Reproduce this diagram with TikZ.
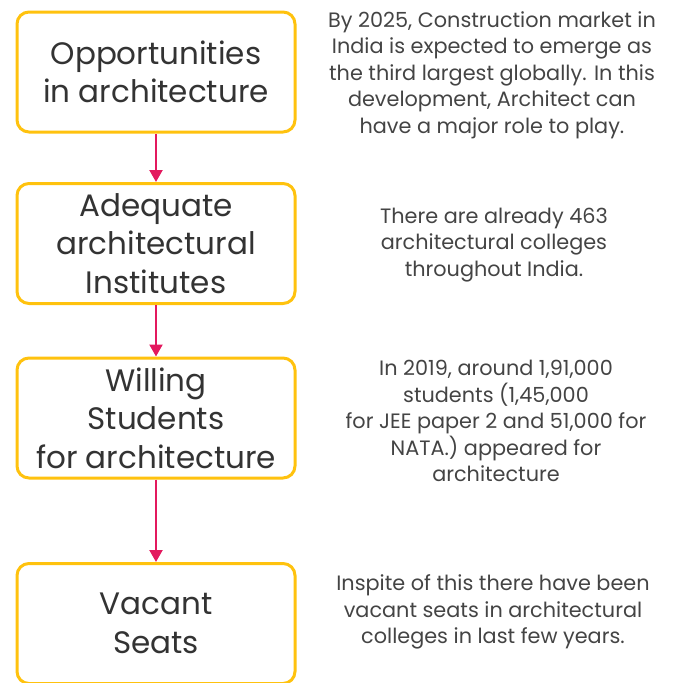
\documentclass[tikz,border=0pt]{standalone}
\usepackage{fontspec}
\setmainfont{Poppins}
\usetikzlibrary{arrows.meta}
\definecolor{boxline}{HTML}{FFC20E}
\definecolor{arrowc}{HTML}{E3195E}
\definecolor{txt}{HTML}{333333}
\definecolor{side}{HTML}{444444}
\begin{document}
\begin{tikzpicture}[x=1pt,y=-1pt,
  stepbox/.style={draw=boxline, line width=3pt, rounded corners=12pt, fill=white,
    minimum width=278pt, minimum height=120pt, align=center, text=txt,
    font=\fontsize{31}{38.5}\selectfont, inner sep=0pt},
  sidetext/.style={align=center, text=side, font=\fontsize{20.8}{26.5}\selectfont, inner sep=0pt},
  flow/.style={draw=arrowc, line width=2.2pt, -{Triangle[length=12pt,width=13pt]}}]
\useasboundingbox (0,0) rectangle (675,683);
\node[stepbox] (b1) at (156,72) {Opportunities\\in architecture};
\node[stepbox] (b2) at (156,243.5) {Adequate\\architectural\\Institutes};
\node[stepbox] (b3) at (156,418) {Willing\\Students\\for architecture};
\node[stepbox] (b4) at (156,623.5) {Vacant\\Seats};
\draw[flow] (b1.south) -- (b2.north);
\draw[flow] (b2.south) -- (b3.north);
\draw[flow] (b3.south) -- (b4.north);
\node[sidetext] (t1) at (492,75) {By 2025, Construction market in\\India is expected to emerge as\\the third largest globally. In this\\development, Architect can\\have a major role to play.};
\node[sidetext] (t2) at (494,245) {There are already 463\\architectural colleges\\throughout India.};
\node[sidetext] (t3) at (496,421) {In 2019, around 1,91,000\\students (1,45,000\\for JEE paper 2 and 51,000 for\\NATA.) appeared for\\architecture};
\node[sidetext] (t4) at (493,612) {Inspite of this there have been\\vacant seats in architectural\\colleges in last few years.};
\end{tikzpicture}
\end{document}
